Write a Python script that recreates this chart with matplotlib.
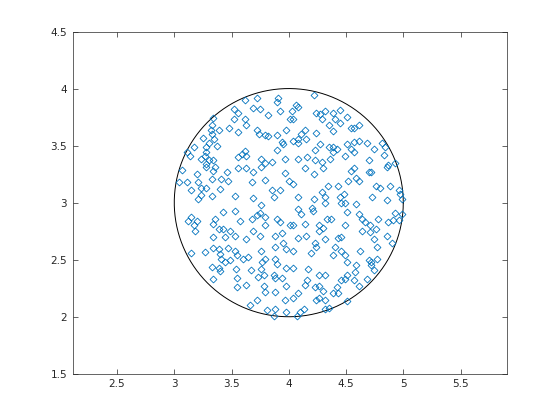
import numpy as np
import matplotlib
matplotlib.use("Agg")
import matplotlib.pyplot as plt

# Points (data coordinates)
px = [3.34,3.33,3.32,3.39,3.48,3.25,3.35,3.33,3.30,3.37,3.28,3.17,3.11,3.14,3.28,3.27,3.23,3.30,3.34,3.28,
      3.62,3.72,3.91,3.90,3.52,3.69,3.75,3.92,3.56,3.82,3.52,3.62,3.63,4.01,3.56,3.72,3.74,3.79,3.82,3.98,
      3.90,3.94,3.95,3.90,3.62,3.59,3.56,3.63,3.76,3.79,3.85,3.97,
      4.22,4.06,4.08,4.03,4.24,4.27,4.32,4.29,4.39,4.45,4.51,4.40,4.45,4.04,4.35,4.39,4.54,4.14,4.11,4.24,
      4.08,4.15,4.04,4.08,4.27,4.35,4.39,4.42,4.51,4.54,4.23,4.39,4.08,4.16,4.23,4.29,4.36,4.49,
      4.57,4.61,4.57,4.61,4.68,4.74,4.81,4.84,4.83,4.57,4.70,4.93,4.87,
      3.07,3.20,3.28,3.34,3.36,3.46,3.41,3.33,3.04,3.11,3.21,3.15,3.23,3.28,3.40,3.47,3.23,3.21,3.33,3.43,
      3.15,3.12,3.20,3.17,3.18,3.36,3.34,3.39,3.43,3.34,3.44,3.49,
      3.56,3.63,3.69,3.76,3.97,4.00,3.68,3.79,3.85,3.92,3.87,3.53,3.69,3.76,3.53,3.57,3.68,3.72,3.75,3.79,
      3.79,3.90,3.92,3.69,3.75,3.63,3.53,3.88,3.94,3.95,4.01,
      4.14,4.22,4.30,4.54,4.04,4.34,4.43,4.52,4.29,4.32,4.45,4.46,4.48,4.49,4.32,4.08,4.22,4.08,4.11,4.20,
      4.21,4.51,4.33,4.37,4.14,4.26,4.30,4.26,4.49,4.04,4.15,4.08,4.32,4.43,4.46,4.23,
      4.57,4.59,4.61,4.70,4.72,4.86,4.76,4.80,4.88,4.96,4.97,4.99,4.73,4.86,4.59,4.61,4.64,4.67,4.78,4.93,
      4.99,4.96,4.87,4.91,4.71,4.76,4.64,4.71,4.86,4.74,4.90,
      3.15,3.27,3.34,3.39,3.40,3.47,3.41,3.44,3.49,3.33,3.39,3.40,3.34,
      3.53,3.55,3.60,3.64,3.76,3.88,3.98,3.88,3.79,3.77,3.90,3.54,3.67,3.76,3.98,3.55,3.73,3.78,3.87,3.88,
      3.94,3.55,3.63,3.78,3.79,3.88,3.98,3.72,3.66,3.97,3.81,3.88,3.87,3.98,
      4.04,4.19,4.24,4.40,4.46,4.49,4.39,4.51,4.04,4.17,4.26,4.32,4.51,4.16,4.14,4.46,4.49,4.23,4.26,4.30,
      4.42,4.43,4.39,4.08,4.26,4.24,4.32,4.51,4.04,4.13,4.10,4.32,4.35,4.07,
      4.62,4.77,4.70,4.72,4.77,4.72,4.74,4.59,4.58,4.57,4.68,4.61]
py = [3.74,3.68,3.64,3.64,3.65,3.57,3.56,3.60,3.52,3.50,3.49,3.49,3.44,3.41,3.44,3.41,3.38,3.37,3.37,3.34,
      3.90,3.92,3.92,3.88,3.82,3.83,3.82,3.80,3.79,3.77,3.73,3.73,3.68,3.73,3.62,3.64,3.60,3.59,3.58,3.64,
      3.59,3.53,3.51,3.46,3.45,3.43,3.40,3.41,3.38,3.35,3.36,3.38,
      3.94,3.86,3.84,3.80,3.79,3.78,3.80,3.73,3.79,3.81,3.75,3.73,3.70,3.73,3.68,3.63,3.65,3.64,3.60,3.61,
      3.56,3.56,3.54,3.52,3.51,3.49,3.49,3.47,3.51,3.47,3.46,3.44,3.38,3.40,3.37,3.36,3.38,3.41,
      3.65,3.68,3.53,3.54,3.52,3.47,3.52,3.49,3.42,3.44,3.37,3.35,3.33,
      3.29,3.25,3.31,3.28,3.31,3.27,3.21,3.21,3.18,3.18,3.18,3.11,3.13,3.13,3.12,3.19,3.07,3.03,3.06,2.92,
      2.87,2.84,2.84,2.80,2.75,2.86,2.81,2.77,2.77,2.70,2.70,2.75,
      3.30,3.30,3.27,3.31,3.26,3.19,3.18,3.20,3.11,3.11,3.05,3.06,3.04,2.98,2.93,2.84,2.86,2.89,2.91,2.87,
      2.80,2.86,2.83,2.75,2.71,2.68,2.71,2.71,2.73,2.65,2.80,
      3.30,3.25,3.30,3.28,3.16,3.15,3.15,3.19,3.09,3.05,3.05,3.00,3.08,3.00,3.00,3.05,3.03,2.94,2.90,2.95,
      2.93,2.92,2.86,2.86,2.81,2.80,2.78,2.75,2.80,2.80,2.71,2.69,2.68,2.69,2.70,2.65,
      3.30,3.22,3.19,3.27,3.27,3.31,3.15,3.13,3.15,3.11,3.08,3.03,3.05,3.02,2.99,2.90,2.86,2.83,2.86,2.91,
      2.90,2.85,2.83,2.85,2.80,2.77,2.75,2.74,2.71,2.68,2.65,
      2.56,2.57,2.60,2.59,2.55,2.60,2.51,2.48,2.50,2.44,2.43,2.40,2.33,
      2.58,2.54,2.51,2.52,2.58,2.61,2.59,2.51,2.51,2.48,2.46,2.42,2.41,2.42,2.43,2.34,2.35,2.37,2.37,2.34,
      2.34,2.26,2.28,2.27,2.22,2.22,2.27,2.15,2.10,2.15,2.06,2.07,2.01,2.04,
      2.58,2.56,2.61,2.61,2.58,2.54,2.54,2.48,2.43,2.42,2.37,2.37,2.37,2.32,2.28,2.32,2.33,2.26,2.27,2.23,
      2.26,2.21,2.21,2.21,2.16,2.15,2.15,2.14,2.16,2.07,2.04,2.07,2.08,2.01,
      2.58,2.61,2.50,2.48,2.51,2.45,2.41,2.45,2.39,2.32,2.33,2.27]

center = (4.0, 3.0)
radius = 1.0
xlim = (2.114, 5.904)
ylim = (1.5, 4.5)
xticks = [2.5, 3, 3.5, 4, 4.5, 5, 5.5]
xticklabels = ["2.5", "3", "3.5", "4", "4.5", "5", "5.5"]
yticks = [1.5, 2, 2.5, 3, 3.5, 4, 4.5]
yticklabels = ["1.5", "2", "2.5", "3", "3.5", "4", "4.5"]

fig = plt.figure(figsize=(5.6, 4.2), dpi=100)
ax = fig.add_axes([0.13, 0.11, 0.775, 0.815])

th = np.linspace(0, 2*np.pi, 400)
ax.plot(center[0] + radius*np.cos(th), center[1] + radius*np.sin(th), color='black', lw=0.7)
ax.plot(px, py, linestyle='none', marker='D', markersize=3.5, markerfacecolor='none',
        markeredgecolor='#0072BD', markeredgewidth=0.6)

ax.set_xlim(*xlim)
ax.set_ylim(*ylim)
ax.set_xticks(xticks)
ax.set_xticklabels(xticklabels)
ax.set_yticks(yticks)
ax.set_yticklabels(yticklabels)
ax.tick_params(direction='in', top=True, right=True, length=3.5, width=0.5,
               colors='#262626', labelsize=7.5, pad=4)
for s in ax.spines.values():
    s.set_linewidth(0.5)
    s.set_color('#262626')

fig.savefig("out.png", dpi=100)
